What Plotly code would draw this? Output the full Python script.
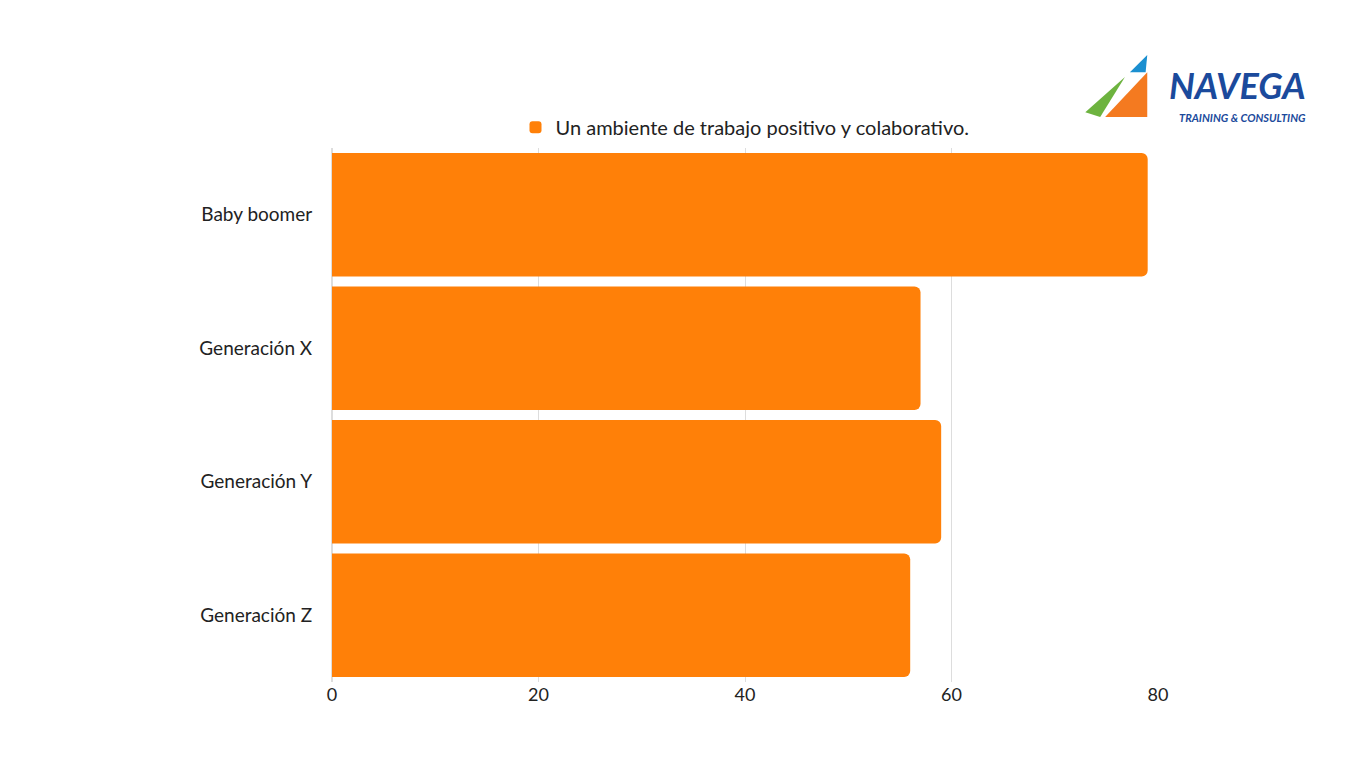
import plotly.graph_objects as go

categories = ["Baby boomer", "Generación X", "Generación Y", "Generación Z"]
values = [79, 57, 59, 56]
series_name = "Un ambiente de trabajo positivo y colaborativo."
tick_vals = [0, 20, 40, 60, 80]

fig = go.Figure(go.Bar(
    y=categories, x=values, orientation="h", name=series_name,
    marker=dict(color="#FF8008", line=dict(width=0)), showlegend=True,
))
fig.update_layout(
    width=1366, height=768, paper_bgcolor="white", plot_bgcolor="white",
    margin=dict(l=324, r=216, t=140, b=94, autoexpand=False),
    font=dict(family="Lato, Open Sans, sans-serif", size=19, color="#222"),
    bargap=0.075, barcornerradius=6,
    legend=dict(orientation="h", x=0.5, xanchor="center", y=1.039, yanchor="middle",
                font=dict(size=20)),
    xaxis=dict(range=[0, 80], tickvals=tick_vals, showgrid=True, gridcolor="#DDDDDD",
               zeroline=True, zerolinecolor="#DDDDDD", ticks="", tickfont=dict(size=18)),
    yaxis=dict(autorange="reversed", ticks="outside", ticklen=15, tickcolor="white",
               showline=False, tickfont=dict(size=19)),
)
fig.add_shape(type="path", xref="paper", yref="paper",
              path="M 0.936 1.058 L 0.987 1.142 L 0.987 1.058 Z", fillcolor="#F47A20", line_width=0)
fig.add_shape(type="path", xref="paper", yref="paper",
              path="M 0.912 1.067 L 0.960 1.133 L 0.930 1.058 Z", fillcolor="#6DB33F", line_width=0)
fig.add_shape(type="path", xref="paper", yref="paper",
              path="M 0.966 1.142 L 0.987 1.174 L 0.985 1.142 Z", fillcolor="#1B8FD0", line_width=0)
fig.add_annotation(xref="paper", yref="paper", x=1.182, y=1.118, xanchor="right", yanchor="middle",
                   text="<b><i>NAVEGA</i></b>", showarrow=False,
                   font=dict(size=36, color="#1B4A9C", family="Lato"))
fig.add_annotation(xref="paper", yref="paper", x=1.182, y=1.058, xanchor="right", yanchor="middle",
                   text="<b><i>TRAINING &amp; CONSULTING</i></b>", showarrow=False,
                   font=dict(size=11, color="#1B4A9C", family="Lato"))
fig.write_html("out.html")
